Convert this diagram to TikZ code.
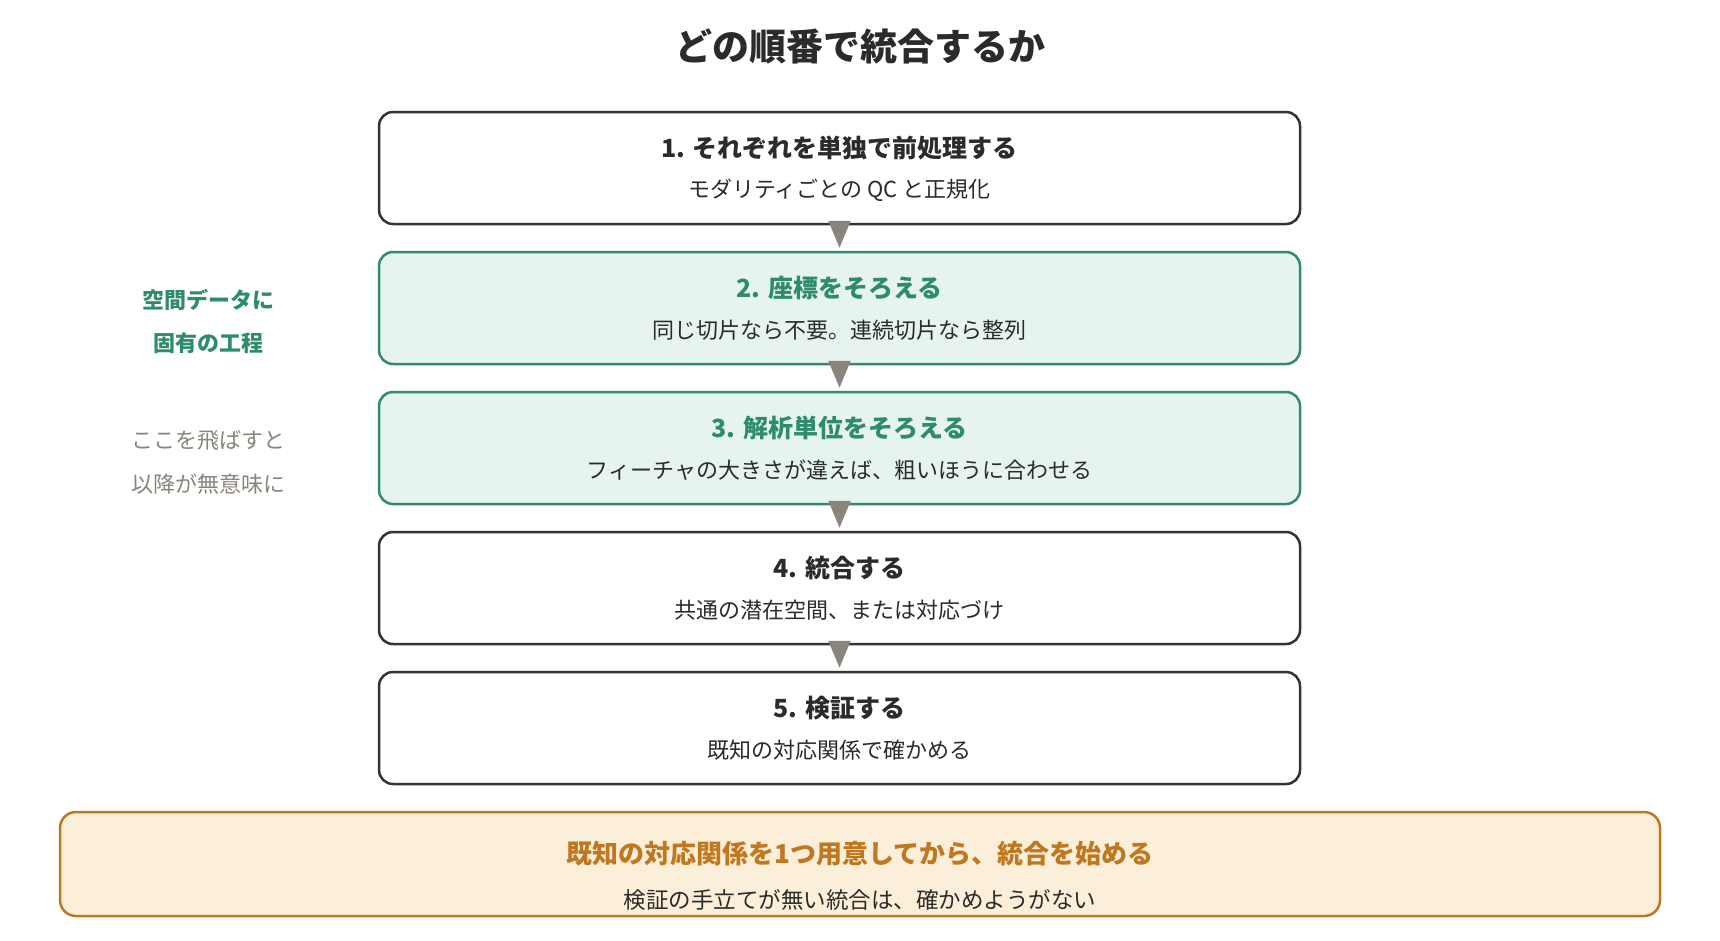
\documentclass[tikz,border=0pt]{standalone}
\usepackage{fontspec}
\setmainfont{Noto Sans CJK JP}
\usetikzlibrary{arrows.meta}
\definecolor{ink}{HTML}{2B2B2B}
\definecolor{boxline}{HTML}{333333}
\definecolor{grn}{HTML}{2E8B6E}
\definecolor{grnfill}{HTML}{E6F4ED}
\definecolor{org}{HTML}{C07820}
\definecolor{orgfill}{HTML}{FCEFD9}
\definecolor{arrowgray}{HTML}{8A857C}
\tikzset{
  stepbox/.style={draw=boxline, line width=2.5pt, rounded corners=14pt, fill=white,
    minimum width=921pt, minimum height=112pt, inner sep=0pt},
  greenbox/.style={stepbox, draw=grn, fill=grnfill},
  notebox/.style={draw=org, line width=2.5pt, rounded corners=16pt, fill=orgfill,
    minimum width=1600pt, minimum height=104pt, inner sep=0pt},
  ttl/.style={font=\fontsize{25}{30}\selectfont\bfseries, text=ink, inner sep=0pt},
  sub/.style={font=\fontsize{22}{26}\selectfont, text=ink, inner sep=0pt},
  sidegreen/.style={font=\fontsize{22}{26}\selectfont\bfseries, text=grn, inner sep=0pt},
  sidegray/.style={font=\fontsize{22}{26}\selectfont, text=arrowgray, inner sep=0pt},
  flow/.style={draw=arrowgray, line width=2pt, -{Triangle[length=27pt,width=22pt]}, arrowgray},
}
\begin{document}
\begin{tikzpicture}[x=1pt,y=-1pt]
\useasboundingbox (0,0) rectangle (1720,940);
\fill[white] (0,0) rectangle (1720,940);

\node[font=\fontsize{37}{44}\selectfont\bfseries, text=ink, inner sep=0pt] (title) at (860,46) {どの順番で統合するか};

\node[stepbox]  (b1) at (839.5,168) {};
\node[greenbox] (b2) at (839.5,308) {};
\node[greenbox] (b3) at (839.5,448) {};
\node[stepbox]  (b4) at (839.5,588) {};
\node[stepbox]  (b5) at (839.5,728) {};

\node[ttl] (t1) at ([yshift=20pt]b1.center) {1. それぞれを単独で前処理する};
\node[sub] (s1) at ([yshift=-22pt]b1.center) {モダリティごとの QC と正規化};
\node[ttl, text=grn] (t2) at ([yshift=20pt]b2.center) {2. 座標をそろえる};
\node[sub] (s2) at ([yshift=-22pt]b2.center) {同じ切片なら不要。連続切片なら整列};
\node[ttl, text=grn] (t3) at ([yshift=20pt]b3.center) {3. 解析単位をそろえる};
\node[sub] (s3) at ([yshift=-22pt]b3.center) {フィーチャの大きさが違えば、粗いほうに合わせる};
\node[ttl] (t4) at ([yshift=20pt]b4.center) {4. 統合する};
\node[sub] (s4) at ([yshift=-22pt]b4.center) {共通の潜在空間、または対応づけ};
\node[ttl] (t5) at ([yshift=20pt]b5.center) {5. 検証する};
\node[sub] (s5) at ([yshift=-22pt]b5.center) {既知の対応関係で確かめる};

\draw[flow] (b1.south) -- ([yshift=3pt]b2.north);
\draw[flow] (b2.south) -- ([yshift=3pt]b3.north);
\draw[flow] (b3.south) -- ([yshift=3pt]b4.north);
\draw[flow] (b4.south) -- ([yshift=3pt]b5.north);

\node[sidegreen] (g1) at (208,299.5) {空間データに};
\node[sidegreen] (g2) at (208,343) {固有の工程};
\node[sidegray] (h1) at (208,440) {ここを飛ばすと};
\node[sidegray] (h2) at (208,484) {以降が無意味に};

\node[notebox] (note) at (860,864) {};
\node[font=\fontsize{26}{31}\selectfont\bfseries, text=org, inner sep=0pt] (nt) at (860,853.5) {既知の対応関係を1つ用意してから、統合を始める};
\node[font=\fontsize{22.5}{27}\selectfont, text=ink, inner sep=0pt] (ns) at (860,900) {検証の手立てが無い統合は、確かめようがない};
\end{tikzpicture}
\end{document}
